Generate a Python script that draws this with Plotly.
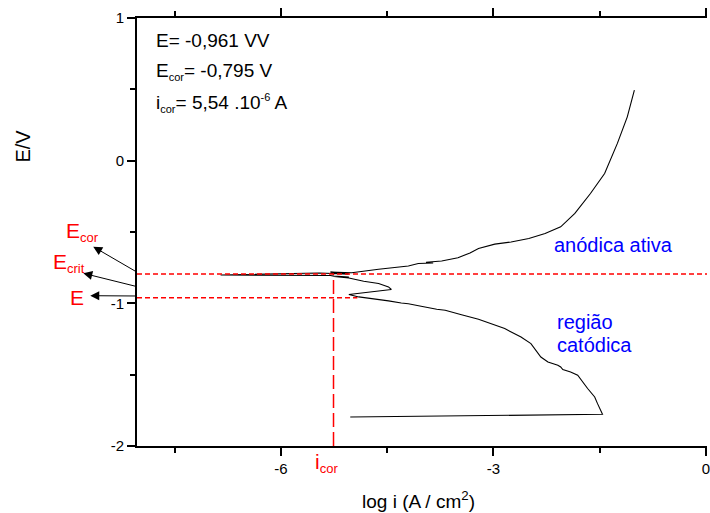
import numpy as np
import plotly.graph_objects as go

# Potentiodynamic polarization scan: log|i| (A/cm2) against potential (V)
log_i = [
    -5.02, -1.46, -1.53, -1.57, -1.67, -1.81, -1.91, -2.02, -2.05, -2.09,
    -2.23, -2.33, -2.47, -2.61, -2.84, -3.21, -3.45, -3.68, -3.80, -3.90,
    -4.02, -4.20, -4.30, -4.48, -4.90, -5.04, -4.58, -4.44, -4.48, -4.62,
    -4.83, -5.04, -5.25, -5.04, -5.25, -5.30, -6.85, -5.46, -5.05, -5.40,
    -5.05, -5.30, -5.00, -4.62, -4.30, -4.20, -4.06, -3.85, -3.95, -3.73,
    -3.50, -3.33, -3.21, -2.98, -2.75, -2.50, -2.27, -2.05, -1.85, -1.63,
    -1.43, -1.25, -1.11, -1.01,
]
potential = [
    -1.797, -1.778, -1.703, -1.656, -1.597, -1.504, -1.481, -1.464, -1.446, -1.434,
    -1.411, -1.376, -1.282, -1.236, -1.177, -1.112, -1.080, -1.048, -1.042, -1.030,
    -1.020, -1.003, -0.998, -0.983, -0.955, -0.938, -0.915, -0.903, -0.885, -0.861,
    -0.845, -0.822, -0.812, -0.815, -0.809, -0.805, -0.801, -0.787, -0.795, -0.784,
    -0.790, -0.781, -0.786, -0.761, -0.747, -0.738, -0.721, -0.717, -0.712, -0.703,
    -0.680, -0.647, -0.616, -0.585, -0.570, -0.545, -0.511, -0.464, -0.370, -0.230,
    -0.090, 0.121, 0.307, 0.494,
]

# Electrochemical parameters shown on the chart
E_val = -0.961
E_cor = -0.795
i_cor = 5.54e-6
E_line_end = -4.92  # where the E level meets the scan

x_ticks = [-6, -3, 0]
x_tick_text = ["-6", "-3", "0"]
x_minor = [-7.5, -4.5, -1.5]
y_ticks = [-2, -1, 0, 1]
y_tick_text = ["-2", "-1", "0", "1"]
y_minor = [-1.5, -0.5, 0.5]

x_range = [-8.03, 0.015]
y_range = [-2, 1]

W, H = 710, 513
ML, MR, MT, MB = 137, 0, 18, 67
PW, PH = W - ML - MR, H - MT - MB


def paper(px, py):
    return (px - ML) / PW, (MT + PH - py) / PH


FONT = "Liberation Sans, Arial, sans-serif"

fig = go.Figure()
fig.add_trace(go.Scatter(
    x=log_i, y=potential, mode="lines",
    line=dict(color="black", width=1.1),
    showlegend=False, hoverinfo="skip",
))

log_icor = float(np.log10(i_cor))
red = "#ff0000"
shapes = [
    dict(type="line", xref="x", yref="y", x0=x_range[0], x1=x_range[1],
         y0=E_cor, y1=E_cor, line=dict(color=red, width=1.5, dash="5px,3px")),
    dict(type="line", xref="x", yref="y", x0=x_range[0], x1=E_line_end,
         y0=E_val, y1=E_val, line=dict(color=red, width=1.5, dash="5px,3px")),
    dict(type="line", xref="x", yref="y", x0=log_icor, x1=log_icor,
         y0=y_range[0], y1=E_cor, line=dict(color=red, width=1.5, dash="14px,5px")),
]

annotations = []


def text_at(px, py, txt, size, color="black", xanchor="left", angle=0):
    x, y = paper(px, py)
    annotations.append(dict(
        xref="paper", yref="paper", x=x, y=y, text=txt, showarrow=False,
        xanchor=xanchor, yanchor="middle", textangle=angle,
        font=dict(family=FONT, size=size, color=color),
    ))


def arrow(head_px, head_py, tail_px, tail_py):
    x, y = paper(head_px, head_py)
    annotations.append(dict(
        xref="paper", yref="paper", x=x, y=y, text="",
        showarrow=True, arrowhead=2, arrowsize=1.8, arrowwidth=1,
        arrowcolor="black", standoff=0,
        ax=tail_px - head_px, ay=tail_py - head_py,
    ))


def small(t, size):
    return f'<span style="font-size:{size}px">{t}</span>'


# parameter block
text_at(154, 41, "E= -0,961 VV", 19)
text_at(154, 72, "E<sub>" + small("cor", 11) + "</sub>= -0,795 V", 19)
text_at(154, 103, "i<sub>" + small("cor", 11) + "</sub>= 5,54 .10<sup>" + small("-6", 11) + "</sup> A", 19)

# region labels
text_at(554, 245, "anódica ativa", 20, color="#0000ff")
text_at(557, 322, "região", 20, color="#0000ff")
text_at(557, 345, "catódica", 20, color="#0000ff")

# red markers beside the axes
text_at(64, 232, "E<sub>" + small("cor", 13) + "</sub>", 21, color=red)
text_at(51, 263, "E<sub>" + small("crit", 13) + "</sub>", 21, color=red)
text_at(68, 297, "E", 21, color=red)
text_at(314, 463, "i<sub>" + small("cor", 13) + "</sub>", 21, color=red)

arrow(93, 246.7, 137, 272.3)
arrow(83, 273.3, 137, 286.7)
arrow(90, 295.7, 137, 296)

# axis titles
text_at(22, 146, "E/V", 20, xanchor="center", angle=-90)
text_at(420, 500, "log i (A / cm<sup>2</sup>)", 19, xanchor="center")

fig.update_layout(
    width=W, height=H,
    margin=dict(l=ML, r=MR, t=MT, b=MB, pad=0),
    paper_bgcolor="white", plot_bgcolor="white",
    font=dict(family=FONT, size=15, color="black"),
    shapes=shapes, annotations=annotations,
    xaxis=dict(
        range=x_range, showgrid=False, zeroline=False,
        showline=True, linecolor="black", linewidth=2, mirror="ticks",
        ticks="outside", ticklen=8, tickwidth=1.5, tickcolor="black",
        tickmode="array", tickvals=x_ticks, ticktext=x_tick_text,
        tickfont=dict(family=FONT, size=15), ticklabeloverflow="allow",
        minor=dict(tickmode="array", tickvals=x_minor, ticks="outside",
                   ticklen=5, tickwidth=1.5, tickcolor="black"),
    ),
    yaxis=dict(
        range=y_range, showgrid=False, zeroline=False,
        showline=True, linecolor="black", linewidth=2,
        ticks="outside", ticklen=8, tickwidth=1.5, tickcolor="black",
        tickmode="array", tickvals=y_ticks, ticktext=y_tick_text,
        tickfont=dict(family=FONT, size=15),
        minor=dict(tickmode="array", tickvals=y_minor, ticks="outside",
                   ticklen=5, tickwidth=1.5, tickcolor="black"),
    ),
)

fig.write_html("out.html")
